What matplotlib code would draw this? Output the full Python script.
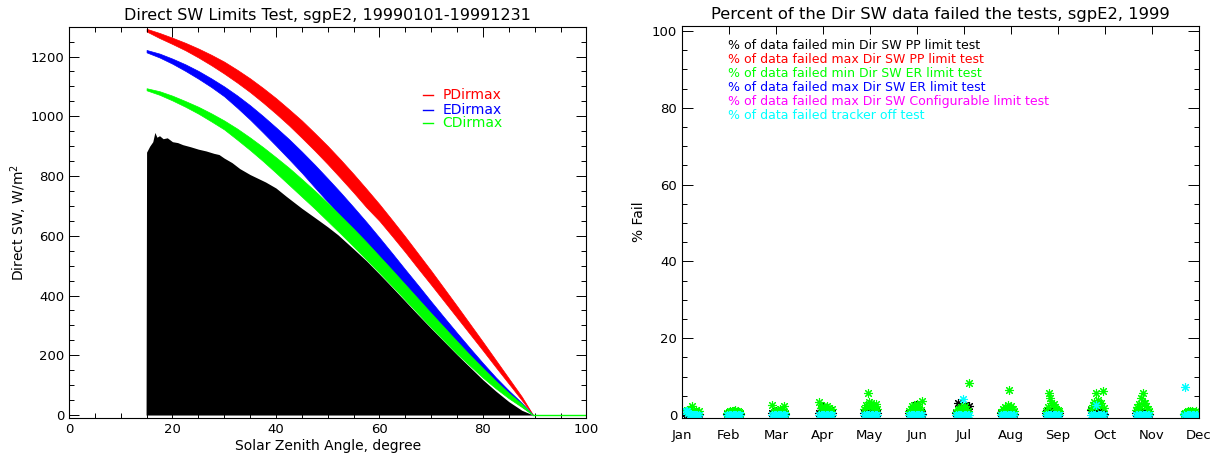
import numpy as np
import matplotlib
matplotlib.use("Agg")
import matplotlib.pyplot as plt
from matplotlib.transforms import ScaledTranslation

plt.rcParams['font.family'] = ['DejaVu Sans']

# ---- left panel: limit bands (W/m2 at given SZA)
sza = [15, 17.5, 20, 22.5, 25, 27.5, 30, 32.5, 35, 37.5, 40, 42.5, 45, 47.5, 50, 52.5,
       55, 57.5, 60, 62.5, 65, 67.5, 70, 72.5, 75, 77.5, 80, 82.5, 85, 87.5, 89.7]
red_hi = [1293, 1279, 1263, 1246, 1227, 1206, 1183, 1156, 1127, 1095, 1061, 1024, 986, 944, 901, 855,
          807, 757, 706, 652, 597, 540, 483, 424, 365, 305, 245, 184, 123, 62, 0]
red_lo = [1284, 1262, 1242, 1221, 1197, 1171, 1143, 1113, 1081, 1046, 1009, 970, 928, 885, 840, 793,
          745, 695, 650, 598, 545, 490, 436, 381, 326, 271, 216, 160, 105, 50, 0]
blue_hi = [1222, 1210, 1193, 1174, 1152, 1127, 1100, 1070, 1037, 1001, 963, 924, 882, 838, 792, 745,
           696, 646, 594, 541, 487, 434, 380, 327, 275, 224, 174, 126, 82, 41, 0]
blue_lo = [1214, 1197, 1176, 1152, 1126, 1098, 1067, 1029, 989, 946, 902, 857, 811, 762, 714, 665,
           617, 567, 517, 468, 419, 370, 322, 275, 228, 184, 142, 101, 63, 29, 0]
green_hi = [1094, 1084, 1069, 1051, 1032, 1010, 986, 959, 929, 897, 863, 828, 790, 751, 710, 667,
            624, 579, 532, 485, 437, 389, 341, 294, 247, 201, 157, 114, 74, 38, 0]
green_lo = [1087, 1072, 1053, 1032, 1009, 983, 956, 922, 887, 850, 811, 771, 731, 691, 649, 607,
            564, 520, 476, 431, 385, 339, 293, 249, 205, 165, 125, 89, 56, 27, 0]

# upper envelope of the measured direct SW cloud
data_sza = [14.9, 15.0, 15.6, 16.2, 16.6, 17.0, 17.5, 18.2, 19.0, 20, 21, 22, 23.5, 25, 26.5, 28,
            29, 30, 31.5, 33, 35, 38, 40, 42, 45, 48, 50, 52, 55, 57.5, 60, 62.5, 65, 67.5,
            70, 72.5, 75, 77.5, 80, 82.5, 85, 87.5, 89.7]
data_top = [0, 880, 900, 915, 946, 930, 935, 925, 928, 915, 912, 905, 898, 890, 884, 876,
            872, 860, 845, 825, 805, 780, 760, 732, 692, 655, 630, 603, 556, 516, 472, 427, 381, 335,
            290, 246, 202, 160, 118, 80, 45, 16, 0]

limit_names = ["PDirmax", "EDirmax", "CDirmax"]
limit_colors = ["#ff0000", "#0000ff", "#00ff00"]

# ---- right panel: daily % fail, 11 samples per month
months = ["Jan", "Feb", "Mar", "Apr", "May", "Jun", "Jul", "Aug", "Sep", "Oct", "Nov", "Dec"]
month_start = [0.085, 0.968, 1.926, 2.926, 3.883, 4.84, 5.84, 6.798, 7.755, 8.713, 9.67, 10.69]
day_step = 0.027

green_fail = [
    [1.0, 1.2, 0.8, 1.5, 0.6, 2.2, 1.0, 0.7, 1.3, 0.5, 0.9],
    [0.5, 0.8, 1.0, 0.6, 1.1, 0.9, 1.2, 0.7, 1.0, 0.8, 0.6],
    [2.6, 0.8, 1.0, 0.7, 1.2, 0.9, 1.5, 1.0, 0.8, 2.2, 0.6],
    [3.5, 1.8, 2.0, 1.5, 2.4, 1.2, 2.2, 1.8, 1.0, 0.8, 1.5],
    [1.5, 2.5, 2.0, 5.6, 3.5, 3.0, 1.8, 2.6, 2.0, 2.8, 1.5],
    [1.0, 1.5, 2.2, 1.6, 2.5, 1.8, 2.8, 2.0, 1.5, 1.2, 3.6],
    [0.8, 1.2, 1.6, 1.0, 2.0, 1.5, 1.8, 2.2, 1.5, 1.0, 8.2],
    [0.8, 1.5, 1.2, 2.0, 1.6, 2.5, 6.5, 1.8, 2.2, 1.5, 1.0],
    [1.0, 2.0, 5.6, 4.3, 3.0, 2.5, 2.8, 2.0, 1.5, 1.2, 1.0],
    [1.5, 2.5, 3.5, 2.0, 5.6, 4.0, 3.0, 2.5, 3.2, 6.3, 1.8],
    [1.2, 2.0, 2.8, 1.8, 4.3, 5.6, 3.2, 3.0, 2.2, 1.5, 1.0],
    [0.3, 0.6, 0.8, 1.0, 0.7, 0.9, 1.1, 0.8, 0.6, 1.0, 0.5],
]
black_fail = [
    [0.5, 0.3, 0.8, 0.4, 0.2, 0.6, 0.3, 0.5, 0.2, 0.4, 0.3],
    [0.3, 0.6, 0.8, 0.4, 0.5, 0.3, 0.2, 0.4, 0.3, 0.2, 0.3],
    [0.4, 0.8, 0.5, 1.0, 0.6, 0.3, 0.5, 0.4, 0.7, 0.3, 0.2],
    [0.5, 1.8, 1.2, 2.0, 0.8, 1.5, 1.0, 0.6, 1.2, 0.5, 0.4],
    [0.5, 0.8, 1.2, 0.6, 1.0, 0.7, 1.5, 0.9, 0.6, 1.0, 0.4],
    [0.4, 0.8, 1.2, 1.5, 0.6, 2.6, 1.0, 0.7, 0.5, 0.8, 0.3],
    [0.5, 3.0, 1.0, 1.5, 1.2, 1.0, 1.2, 2.5, 1.2, 0.8, 2.2],
    [0.5, 0.8, 1.0, 1.2, 0.8, 1.5, 1.7, 1.2, 0.8, 0.5, 0.3],
    [0.5, 1.0, 1.3, 0.8, 1.5, 1.0, 1.2, 1.3, 0.8, 0.5, 0.4],
    [1.3, 1.0, 1.5, 0.8, 1.2, 0.9, 0.6, 0.8, 0.5, 0.4, 0.3],
    [0.5, 0.8, 0.6, 1.0, 0.7, 0.5, 0.8, 0.4, 0.3, 0.5, 0.2],
    [0.2, 0.3, 0.2, 0.4, 0.3, 0.2, 0.3, 0.2, 0.1, 0.3, 0.2],
]
cyan_fail = [
    [0.9, 1.0, 0.6, 0.3, 0, 0, 0, 0, 0, 0, 0],
    [0] * 11, [0] * 11, [0] * 11, [0] * 11, [0] * 11,
    [0, 0, 0, 0, 0, 4.1, 0, 0, 0, 0, 0],
    [0] * 11, [0] * 11,
    [0, 0, 0, 0, 2.6, 0, 0, 0, 0, 0, 0],
    [0] * 11,
    [0, 7.2, 0, 0, 0, 0, 0, 0, 0, 0, 0],
]

legend_lines = [
    ("% of data failed min Dir SW PP limit test", "black"),
    ("% of data failed max Dir SW PP limit test", "#ff0000"),
    ("% of data failed min Dir SW ER limit test", "#00ff00"),
    ("% of data failed max Dir SW ER limit test", "#0000ff"),
    ("% of data failed max Dir SW Configurable limit test", "#ff00ff"),
    ("% of data failed tracker off test", "#00ffff"),
]

fig = plt.figure(figsize=(12.25, 4.57), dpi=100)

# ================= left panel
ax1 = fig.add_axes([0.0563, 0.0853, 0.4224, 0.8563])
ax1.fill_between(data_sza, 0, data_top, color="black", lw=0)
ax1.fill_between(sza, red_lo, red_hi, color=limit_colors[0], lw=0.5)
ax1.fill_between(sza, blue_lo, blue_hi, color=limit_colors[1], lw=0.5)
ax1.fill_between(sza, green_lo, green_hi, color=limit_colors[2], lw=0.5)
ax1.plot([89.7, 100], [0, 0], color=limit_colors[2], lw=1)

ax1.set_xlim(0, 100)
ax1.set_ylim(-10, 1300)
ax1.set_xticks(np.arange(0, 101, 20))
ax1.set_xticks(np.arange(0, 101, 5), minor=True)
ax1.set_yticks(np.arange(0, 1201, 200))
ax1.set_yticks(np.arange(0, 1301, 50), minor=True)
ax1.tick_params(which="both", direction="in", top=True, right=True, labelsize=9.5, width=0.7)
ax1.tick_params(which="major", length=7)
ax1.tick_params(which="minor", length=3.5)
ax1.set_xlabel("Solar Zenith Angle, degree", fontsize=10, labelpad=2)
ax1.set_ylabel("Direct SW, W/m$^2$", fontsize=10, labelpad=1)
ax1.set_title("Direct SW Limits Test, sgpE2, 19990101-19991231", fontsize=11.5, pad=5)

leg_y = [0.825, 0.787, 0.753]
for name, col, y in zip(limit_names, limit_colors, leg_y):
    ax1.plot([0.684, 0.703], [y, y], color=col, lw=1, transform=ax1.transAxes)
    ax1.text(0.722, y, name, color=col, fontsize=10, va="center", transform=ax1.transAxes)

# ================= right panel
ax2 = fig.add_axes([0.5567, 0.0853, 0.4218, 0.8578])
mk = dict(marker=(8, 2, 0), ms=6.5, mew=0.8, ls="none")
for m in range(12):
    xs = [month_start[m] + day_step * j for j in range(11)]
    ax2.plot(xs, black_fail[m], color="black", **mk)
    ax2.plot(xs, green_fail[m], color="#00ff00", **mk)
    ax2.plot(xs, cyan_fail[m], color="#00ffff", **mk)

ax2.set_xlim(0, 11)
ax2.set_ylim(-0.8, 101.3)
ax2.set_xticks(range(12))
ax2.set_xticklabels(months)
off = ScaledTranslation(0.10, 0, fig.dpi_scale_trans)
for lab in ax2.get_xticklabels():
    lab.set_transform(lab.get_transform() + off)
ax2.tick_params(axis="x", which="both", bottom=False, top=True, direction="in",
                length=5.5, width=0.7, labelsize=9.5, pad=8)
ax2.set_yticks(np.arange(0, 101, 20))
ax2.set_yticks(np.arange(0, 101, 5), minor=True)
ax2.tick_params(axis="y", which="both", direction="in", left=True, right=True, width=0.7, labelsize=9.5)
ax2.tick_params(axis="y", which="major", length=8)
ax2.tick_params(axis="y", which="minor", length=3.5)
ax2.set_ylabel("% Fail", fontsize=10, labelpad=4)
ax2.set_title("Percent of the Dir SW data failed the tests, sgpE2, 1999", fontsize=11.8, pad=5)

for k, (txt, col) in enumerate(legend_lines):
    ax2.text(0.09, 0.9513 - k * 0.0357, txt, color=col, fontsize=9, va="center",
             transform=ax2.transAxes)

for ax in (ax1, ax2):
    for s in ax.spines.values():
        s.set_linewidth(0.8)

fig.savefig("out.png", dpi=100)
